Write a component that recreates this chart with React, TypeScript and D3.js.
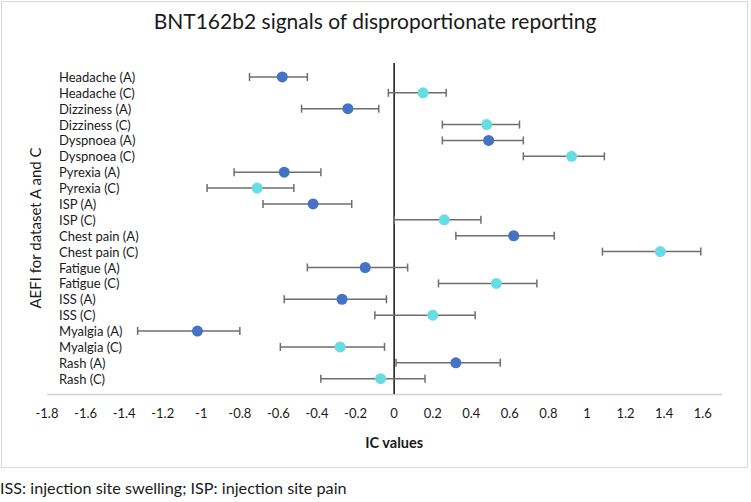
import { useEffect, useRef } from "react"
import * as d3 from "d3"

const categories = [
  "Headache (A)", "Headache (C)", "Dizziness (A)", "Dizziness (C)",
  "Dyspnoea (A)", "Dyspnoea (C)", "Pyrexia (A)", "Pyrexia (C)",
  "ISP (A)", "ISP (C)", "Chest pain (A)", "Chest pain (C)",
  "Fatigue (A)", "Fatigue (C)", "ISS (A)", "ISS (C)",
  "Myalgia (A)", "Myalgia (C)", "Rash (A)", "Rash (C)",
]
const icValues = [
  -0.58, 0.15, -0.24, 0.48, 0.49, 0.92, -0.57, -0.71, -0.42, 0.26,
  0.62, 1.38, -0.15, 0.53, -0.27, 0.2, -1.02, -0.28, 0.32, -0.07,
]
const lowerCI = [
  -0.75, -0.03, -0.48, 0.25, 0.25, 0.67, -0.83, -0.97, -0.68, 0.0,
  0.32, 1.08, -0.45, 0.23, -0.57, -0.1, -1.33, -0.59, 0.01, -0.38,
]
const upperCI = [
  -0.45, 0.27, -0.08, 0.65, 0.67, 1.09, -0.38, -0.52, -0.22, 0.45,
  0.83, 1.59, 0.07, 0.74, -0.04, 0.42, -0.8, -0.05, 0.55, 0.16,
]
const xTicks = [-1.8, -1.6, -1.4, -1.2, -1, -0.8, -0.6, -0.4, -0.2, 0, 0.2, 0.4, 0.6, 0.8, 1, 1.2, 1.4, 1.6]

export default function App() {
  const svgRef = useRef(null)

  useEffect(() => {
    if (!svgRef.current) return
    const svg = d3.select(svgRef.current)
    svg.selectAll("*").remove()

    const width = 751
    const height = 502
    const font = "Lato, 'Open Sans', sans-serif"

    const x = d3.scaleLinear().domain([-1.8, 1.7]).range([47, 722])
    const y = d3.scaleBand().domain(categories).range([69, 386.6])
    const cy = (c) => y(c) + y.bandwidth() / 2

    const data = categories.map((c, i) => ({
      c,
      v: icValues[i],
      lo: lowerCI[i],
      hi: upperCI[i],
      group: c.endsWith("(A)") ? "A" : "C",
    }))

    // 外框
    svg.append("rect")
      .attr("x", 1.5).attr("y", 1.5)
      .attr("width", 746).attr("height", 466)
      .attr("fill", "#fff")
      .attr("stroke", "#d9d9d9")

    // 标题
    svg.append("text")
      .attr("x", 375).attr("y", 29)
      .attr("text-anchor", "middle")
      .attr("font-family", font)
      .attr("font-size", "21px")
      .attr("fill", "#1a1a1a")
      .text("BNT162b2 signals of disproportionate reporting")

    // X轴线
    svg.append("line")
      .attr("x1", x(-1.8)).attr("x2", x(1.7))
      .attr("y1", 394.5).attr("y2", 394.5)
      .attr("stroke", "#d0d0d0").attr("stroke-width", 1.5)

    // 零线
    svg.append("line")
      .attr("x1", x(0)).attr("x2", x(0))
      .attr("y1", 63).attr("y2", 394)
      .attr("stroke", "#111").attr("stroke-width", 1.5)

    // 刻度标签
    svg.append("g")
      .selectAll("text")
      .data(xTicks)
      .enter()
      .append("text")
      .attr("x", (d) => x(d))
      .attr("y", 418)
      .attr("text-anchor", "middle")
      .attr("font-family", font)
      .attr("font-size", "13px")
      .attr("fill", "#1a1a1a")
      .text((d) => String(d))

    svg.append("text")
      .attr("x", x(0)).attr("y", 448)
      .attr("text-anchor", "middle")
      .attr("font-family", font)
      .attr("font-size", "14.5px")
      .attr("font-weight", "bold")
      .attr("fill", "#1a1a1a")
      .text("IC values")

    // 类别标签
    svg.append("g")
      .selectAll("text")
      .data(categories)
      .enter()
      .append("text")
      .attr("x", 59)
      .attr("y", (d) => cy(d))
      .attr("dominant-baseline", "central")
      .attr("font-family", font)
      .attr("font-size", "13px")
      .attr("fill", "#1a1a1a")
      .text((d) => d)

    svg.append("text")
      .attr("transform", `translate(35,228) rotate(-90)`)
      .attr("text-anchor", "middle")
      .attr("dominant-baseline", "central")
      .attr("font-family", font)
      .attr("font-size", "15px")
      .attr("fill", "#1a1a1a")
      .text("AEFI for dataset A and C")

    // 误差线
    const bars = svg.append("g").attr("stroke", "#6e6e6e").attr("stroke-width", 1.5)
    bars.selectAll(".ci")
      .data(data)
      .enter()
      .append("line")
      .attr("x1", (d) => x(d.lo)).attr("x2", (d) => x(d.hi))
      .attr("y1", (d) => cy(d.c)).attr("y2", (d) => cy(d.c))
    bars.selectAll(".cap-lo")
      .data(data)
      .enter()
      .append("line")
      .attr("x1", (d) => x(d.lo)).attr("x2", (d) => x(d.lo))
      .attr("y1", (d) => cy(d.c) - 4).attr("y2", (d) => cy(d.c) + 4)
    bars.selectAll(".cap-hi")
      .data(data)
      .enter()
      .append("line")
      .attr("x1", (d) => x(d.hi)).attr("x2", (d) => x(d.hi))
      .attr("y1", (d) => cy(d.c) - 4).attr("y2", (d) => cy(d.c) + 4)

    // 点
    svg.append("g")
      .selectAll("circle")
      .data(data)
      .enter()
      .append("circle")
      .attr("cx", (d) => x(d.v))
      .attr("cy", (d) => cy(d.c))
      .attr("r", 5.5)
      .attr("fill", (d) => (d.group === "A" ? "#4472C4" : "#67DCE2"))

    // 脚注
    svg.append("text")
      .attr("x", 0).attr("y", 494)
      .attr("font-family", font)
      .attr("font-size", "16.2px")
      .attr("fill", "#1a1a1a")
      .text("ISS: injection site swelling; ISP: injection site pain")

    svg.attr("width", width).attr("height", height).attr("viewBox", [0, 0, width, height])
  }, [])

  return (
    <div style={{ position: "absolute", left: 0, top: 0, background: "#fff" }}>
      <svg ref={svgRef} style={{ display: "block" }}></svg>
    </div>
  )
}
